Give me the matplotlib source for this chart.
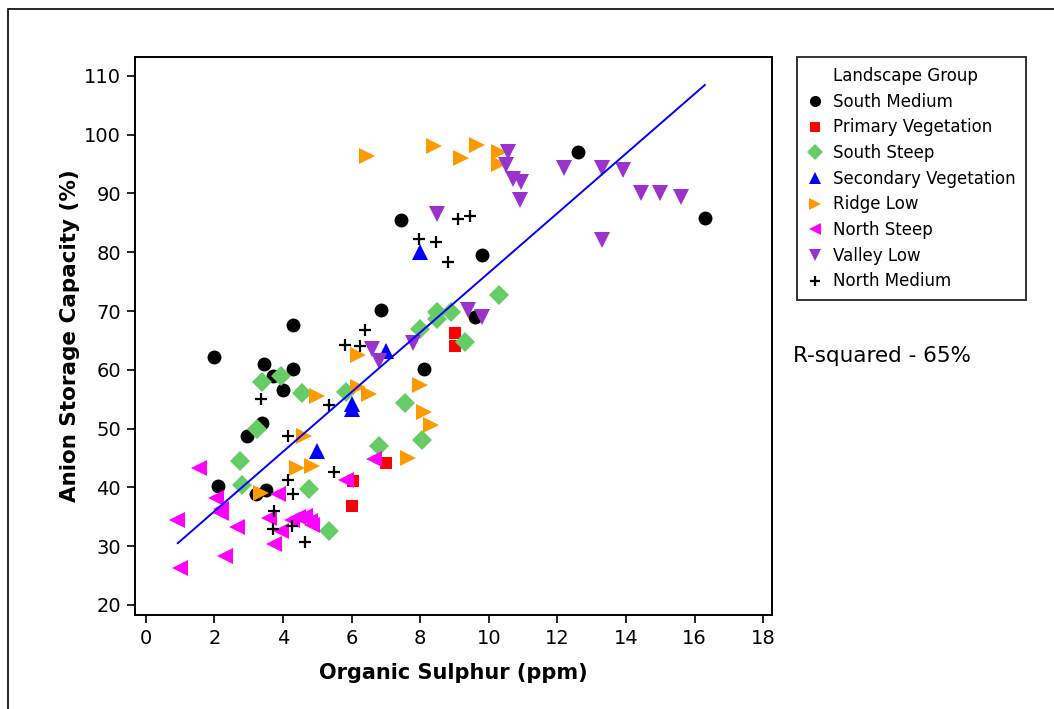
import numpy as np
import matplotlib
matplotlib.use("Agg")
import matplotlib.pyplot as plt
from matplotlib.lines import Line2D
from matplotlib.patches import Rectangle

# ── data ───────────────────────────────────────────────────────────────────
south_medium_x = [2.0, 2.1, 2.95, 3.4, 3.45, 3.7, 4.0, 4.3, 4.3, 3.2, 3.5, 6.85, 7.45, 8.1, 9.8, 9.6, 12.6, 16.3]
south_medium_y = [62.2, 40.2, 48.8, 51.0, 61.0, 58.9, 56.6, 60.1, 67.6, 38.9, 39.5, 70.1, 85.4, 60.1, 79.5, 68.9, 97.0, 85.8]

primary_veg_x = [7.0, 6.05, 6.0, 9.0, 9.0]
primary_veg_y = [44.2, 41.1, 36.9, 66.2, 64.0]

south_steep_x = [3.25, 2.75, 2.8, 3.4, 3.95, 4.55, 4.75, 5.35, 5.85, 6.8, 7.55, 8.0, 8.5, 8.5, 8.9, 9.3, 8.05, 10.3]
south_steep_y = [50.0, 44.5, 40.4, 58.0, 59.0, 56.0, 39.8, 32.5, 56.3, 47.0, 54.3, 66.9, 69.8, 68.6, 69.8, 64.7, 48.0, 72.8]

secondary_veg_x = [7.0, 8.0, 6.0, 6.0, 5.0]
secondary_veg_y = [63.2, 80.1, 54.2, 53.3, 46.2]

ridge_low_x = [3.35, 4.4, 4.85, 4.6, 5.0, 6.2, 6.2, 6.5, 8.0, 8.1, 8.3, 7.65, 6.45, 8.4, 9.2, 9.65, 10.3, 10.3]
ridge_low_y = [39.0, 43.3, 43.6, 48.8, 55.6, 62.5, 57.0, 55.8, 57.5, 52.8, 50.6, 45.0, 96.3, 98.1, 96.0, 98.2, 97.0, 95.0]

north_steep_x = [1.55, 2.05, 2.2, 2.2, 0.9, 2.65, 2.3, 1.0, 3.85, 3.6, 3.95, 3.75, 4.25, 4.45, 4.65, 4.8, 4.85, 5.85, 6.65]
north_steep_y = [43.3, 38.2, 36.3, 35.6, 34.5, 33.2, 28.4, 26.3, 38.8, 34.8, 32.5, 30.3, 34.5, 35.0, 35.2, 34.3, 33.6, 41.2, 44.8]

valley_low_x = [6.6, 6.8, 7.8, 8.5, 9.4, 9.8, 10.55, 10.5, 10.7, 10.95, 10.9, 12.2, 13.3, 13.9, 14.45, 15.0, 15.6, 13.3]
valley_low_y = [63.6, 61.5, 64.5, 86.5, 70.1, 69.0, 97.0, 94.8, 92.5, 92.0, 88.8, 94.3, 94.3, 94.0, 90.0, 90.0, 89.4, 82.0]

north_medium_x = [3.35, 4.15, 4.15, 4.3, 3.75, 3.7, 4.25, 4.65, 5.35, 5.5, 5.8, 6.25, 6.4, 7.95, 8.45, 8.8, 9.1, 9.45]
north_medium_y = [55.0, 48.7, 41.3, 38.9, 36.0, 33.0, 33.5, 30.7, 54.0, 42.6, 64.3, 64.0, 66.8, 82.2, 81.8, 78.4, 85.7, 86.2]

# fitted regression line
fit_x_range = [0.93, 16.3]
fit_intercept = 25.8
fit_slope = 5.07
r_squared = 65

groups = [
    ("South Medium", south_medium_x, south_medium_y, "o", "black", 10),
    ("Primary Vegetation", primary_veg_x, primary_veg_y, "s", "#FF0000", 9),
    ("South Steep", south_steep_x, south_steep_y, "D", "#66CC66", 10),
    ("Secondary Vegetation", secondary_veg_x, secondary_veg_y, "^", "#0000FF", 11),
    ("Ridge Low", ridge_low_x, ridge_low_y, ">", "#FF9900", 11),
    ("North Steep", north_steep_x, north_steep_y, "<", "#FF00FF", 11),
    ("Valley Low", valley_low_x, valley_low_y, "v", "#9933CC", 11),
    ("North Medium", north_medium_x, north_medium_y, "+", "black", 9),
]

plt.rcParams["font.family"] = "DejaVu Sans"

fig = plt.figure(figsize=(10.54, 7.09), dpi=100)
ax = fig.add_axes([0.128, 0.1326, 0.6045, 0.787])

for name, xs, ys, m, c, ms in groups:
    ax.plot(xs, ys, linestyle="none", marker=m, color=c, markersize=ms,
            markeredgewidth=1.6 if m == "+" else 0, label=name, zorder=3)

fx = np.array(fit_x_range)
ax.plot(fx, fit_intercept + fit_slope * fx, color="#0000FF", linewidth=1.4, zorder=4)

ax.set_xlim(-0.32, 18.26)
ax.set_ylim(18.3, 113.2)
ax.set_xticks(np.arange(0, 19, 2))
ax.set_yticks(np.arange(20, 111, 10))
ax.tick_params(direction="out", length=6, width=1.2, labelsize=14, pad=4)
for sp in ax.spines.values():
    sp.set_linewidth(1.4)

ax.set_xlabel("Organic Sulphur (ppm)", fontsize=15, fontweight="bold", labelpad=11)
ax.set_ylabel("Anion Storage Capacity (%)", fontsize=15.5, fontweight="bold", labelpad=3)

# legend with the group title aligned with the labels
handles = [Line2D([], [], linestyle="none", marker="", label="Landscape Group")]
handles += ax.get_legend_handles_labels()[0]
leg = fig.legend(handles=handles, loc="upper left",
                 bbox_to_anchor=(0.756, 0.9196), borderaxespad=0, fontsize=12,
                 frameon=True, fancybox=False, edgecolor="black",
                 handlelength=1.0, handletextpad=0.6, borderpad=0.6,
                 labelspacing=0.46, markerscale=0.8)
leg.get_frame().set_linewidth(1.4)

fig.text(0.752, 0.498, f"R-squared - {r_squared}%", fontsize=15.5, va="center")

fig.patches.append(Rectangle((0.008, -0.01), 1.1, 0.998, transform=fig.transFigure,
                             fill=False, edgecolor="black", linewidth=1.2))

fig.savefig("out.png", dpi=100)
